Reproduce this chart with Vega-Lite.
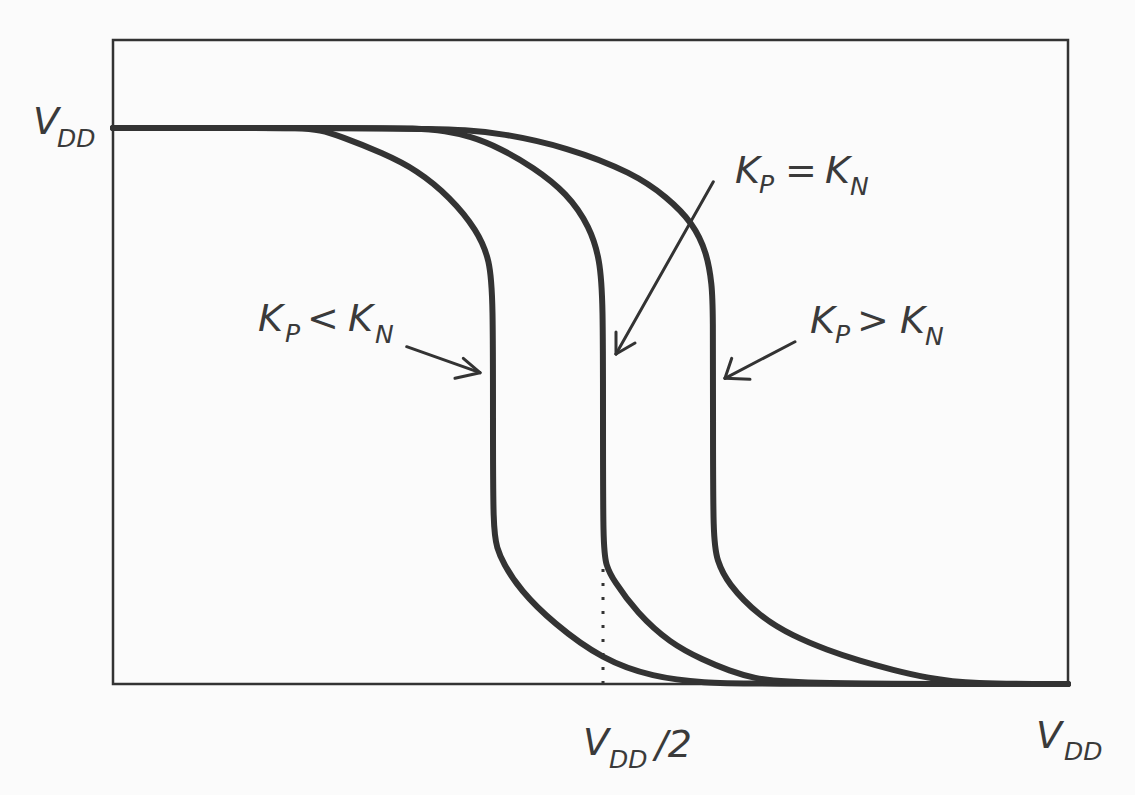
{
  "$schema": "https://vega.github.io/schema/vega-lite/v6.json",
  "width": 955,
  "height": 644,
  "autosize": {"type": "none"},
  "padding": {"left": 113, "top": 40, "right": 67, "bottom": 111},
  "background": "#fbfbfb",
  "config": {"view": {"stroke": "#333333", "strokeWidth": 2.5}},
  "datasets": {
    "curves": [
      {"curve": "Kp<Kn", "i": 0, "x": 0, "y": 1},
      {"curve": "Kp<Kn", "i": 1, "x": 0.1435, "y": 1},
      {"curve": "Kp<Kn", "i": 2, "x": 0.1958, "y": 1},
      {"curve": "Kp<Kn", "i": 3, "x": 0.2168, "y": 0.9964},
      {"curve": "Kp<Kn", "i": 4, "x": 0.2377, "y": 0.9856},
      {"curve": "Kp<Kn", "i": 5, "x": 0.2827, "y": 0.955},
      {"curve": "Kp<Kn", "i": 6, "x": 0.3183, "y": 0.9245},
      {"curve": "Kp<Kn", "i": 7, "x": 0.3529, "y": 0.8759},
      {"curve": "Kp<Kn", "i": 8, "x": 0.3812, "y": 0.8165},
      {"curve": "Kp<Kn", "i": 9, "x": 0.3948, "y": 0.7626},
      {"curve": "Kp<Kn", "i": 10, "x": 0.3979, "y": 0.6906},
      {"curve": "Kp<Kn", "i": 11, "x": 0.3979, "y": 0.4748},
      {"curve": "Kp<Kn", "i": 12, "x": 0.3979, "y": 0.277},
      {"curve": "Kp<Kn", "i": 13, "x": 0.4021, "y": 0.2446},
      {"curve": "Kp<Kn", "i": 14, "x": 0.4084, "y": 0.2176},
      {"curve": "Kp<Kn", "i": 15, "x": 0.4262, "y": 0.1691},
      {"curve": "Kp<Kn", "i": 16, "x": 0.4607, "y": 0.1097},
      {"curve": "Kp<Kn", "i": 17, "x": 0.5131, "y": 0.0432},
      {"curve": "Kp<Kn", "i": 18, "x": 0.5654, "y": 0.0126},
      {"curve": "Kp<Kn", "i": 19, "x": 0.6178, "y": 0.0018},
      {"curve": "Kp<Kn", "i": 20, "x": 0.6775, "y": 0},
      {"curve": "Kp<Kn", "i": 21, "x": 1, "y": 0},
      {"curve": "Kp=Kn", "i": 0, "x": 0, "y": 1},
      {"curve": "Kp=Kn", "i": 1, "x": 0.2482, "y": 1},
      {"curve": "Kp=Kn", "i": 2, "x": 0.3215, "y": 1},
      {"curve": "Kp=Kn", "i": 3, "x": 0.3476, "y": 0.9946},
      {"curve": "Kp=Kn", "i": 4, "x": 0.3738, "y": 0.9856},
      {"curve": "Kp=Kn", "i": 5, "x": 0.4052, "y": 0.964},
      {"curve": "Kp=Kn", "i": 6, "x": 0.4398, "y": 0.9299},
      {"curve": "Kp=Kn", "i": 7, "x": 0.4754, "y": 0.8831},
      {"curve": "Kp=Kn", "i": 8, "x": 0.4995, "y": 0.8219},
      {"curve": "Kp=Kn", "i": 9, "x": 0.5099, "y": 0.7626},
      {"curve": "Kp=Kn", "i": 10, "x": 0.5131, "y": 0.6906},
      {"curve": "Kp=Kn", "i": 11, "x": 0.5131, "y": 0.4748},
      {"curve": "Kp=Kn", "i": 12, "x": 0.5131, "y": 0.2464},
      {"curve": "Kp=Kn", "i": 13, "x": 0.5162, "y": 0.214},
      {"curve": "Kp=Kn", "i": 14, "x": 0.5236, "y": 0.1871},
      {"curve": "Kp=Kn", "i": 15, "x": 0.5487, "y": 0.1277},
      {"curve": "Kp=Kn", "i": 16, "x": 0.5832, "y": 0.0737},
      {"curve": "Kp=Kn", "i": 17, "x": 0.6178, "y": 0.0432},
      {"curve": "Kp=Kn", "i": 18, "x": 0.6461, "y": 0.0234},
      {"curve": "Kp=Kn", "i": 19, "x": 0.6702, "y": 0.0108},
      {"curve": "Kp=Kn", "i": 20, "x": 0.7089, "y": 0},
      {"curve": "Kp=Kn", "i": 21, "x": 1, "y": 0},
      {"curve": "Kp>Kn", "i": 0, "x": 0, "y": 1},
      {"curve": "Kp>Kn", "i": 1, "x": 0.2796, "y": 1},
      {"curve": "Kp>Kn", "i": 2, "x": 0.3319, "y": 0.9982},
      {"curve": "Kp>Kn", "i": 3, "x": 0.3686, "y": 0.9964},
      {"curve": "Kp>Kn", "i": 4, "x": 0.4052, "y": 0.991},
      {"curve": "Kp>Kn", "i": 5, "x": 0.4754, "y": 0.9658},
      {"curve": "Kp>Kn", "i": 6, "x": 0.5445, "y": 0.9191},
      {"curve": "Kp>Kn", "i": 7, "x": 0.5801, "y": 0.8759},
      {"curve": "Kp>Kn", "i": 8, "x": 0.6073, "y": 0.8291},
      {"curve": "Kp>Kn", "i": 9, "x": 0.622, "y": 0.7752},
      {"curve": "Kp>Kn", "i": 10, "x": 0.6272, "y": 0.7176},
      {"curve": "Kp>Kn", "i": 11, "x": 0.6283, "y": 0.6727},
      {"curve": "Kp>Kn", "i": 12, "x": 0.6283, "y": 0.4748},
      {"curve": "Kp>Kn", "i": 13, "x": 0.6283, "y": 0.259},
      {"curve": "Kp>Kn", "i": 14, "x": 0.6325, "y": 0.223},
      {"curve": "Kp>Kn", "i": 15, "x": 0.6429, "y": 0.1817},
      {"curve": "Kp>Kn", "i": 16, "x": 0.6775, "y": 0.1205},
      {"curve": "Kp>Kn", "i": 17, "x": 0.712, "y": 0.0863},
      {"curve": "Kp>Kn", "i": 18, "x": 0.7476, "y": 0.0612},
      {"curve": "Kp>Kn", "i": 19, "x": 0.7822, "y": 0.0414},
      {"curve": "Kp>Kn", "i": 20, "x": 0.8168, "y": 0.0252},
      {"curve": "Kp>Kn", "i": 21, "x": 0.8524, "y": 0.0108},
      {"curve": "Kp>Kn", "i": 22, "x": 0.8974, "y": 0},
      {"curve": "Kp>Kn", "i": 23, "x": 1, "y": 0}
    ],
    "dotted": [{"x": 0.5131, "y": 0, "y2": 0.214}],
    "arrows": [
      {"x": 0.3075, "y": 0.6067, "x2": 0.3843, "y2": 0.5599},
      {"x": 0.3668, "y": 0.5858, "x2": 0.3843, "y2": 0.5599},
      {"x": 0.3581, "y": 0.5498, "x2": 0.3843, "y2": 0.5599},
      {"x": 0.6286, "y": 0.9034, "x2": 0.5267, "y2": 0.5935},
      {"x": 0.5267, "y": 0.6331, "x2": 0.5267, "y2": 0.5935},
      {"x": 0.5466, "y": 0.6133, "x2": 0.5267, "y2": 0.5935},
      {"x": 0.7141, "y": 0.6156, "x2": 0.6408, "y2": 0.5498},
      {"x": 0.6479, "y": 0.5858, "x2": 0.6408, "y2": 0.5498},
      {"x": 0.667, "y": 0.548, "x2": 0.6408, "y2": 0.5498}
    ],
    "labels": [
      {"text": "V", "x": -0.0838, "y": 0.9892},
      {"text": "K", "x": 0.1518, "y": 0.6349},
      {"text": "<", "x": 0.2031, "y": 0.6349},
      {"text": "K", "x": 0.2461, "y": 0.6349},
      {"text": "K", "x": 0.6513, "y": 0.9011},
      {"text": "=", "x": 0.7037, "y": 0.9011},
      {"text": "K", "x": 0.7455, "y": 0.9011},
      {"text": "K", "x": 0.7298, "y": 0.6313},
      {"text": ">", "x": 0.7791, "y": 0.6313},
      {"text": "K", "x": 0.8241, "y": 0.6313},
      {"text": "V", "x": 0.4921, "y": -0.1277},
      {"text": "/2", "x": 0.5675, "y": -0.1313},
      {"text": "V", "x": 0.9665, "y": -0.1151}
    ],
    "subs": [
      {"text": "DD", "x": -0.0586, "y": 0.9658},
      {"text": "P", "x": 0.1801, "y": 0.6151},
      {"text": "N", "x": 0.2743, "y": 0.6133},
      {"text": "P", "x": 0.6764, "y": 0.8831},
      {"text": "N", "x": 0.7717, "y": 0.8795},
      {"text": "P", "x": 0.756, "y": 0.6133},
      {"text": "N", "x": 0.8503, "y": 0.6097},
      {"text": "DD", "x": 0.5194, "y": -0.1511},
      {"text": "DD", "x": 0.9958, "y": -0.1367}
    ]
  },
  "encoding": {
    "x": {"field": "x", "type": "quantitative", "scale": {"domain": [0, 1], "nice": false, "zero": false}, "axis": null},
    "y": {"field": "y", "type": "quantitative", "scale": {"domain": [0, 1.1583], "nice": false, "zero": false}, "axis": null}
  },
  "layer": [
    {
      "data": {"name": "curves"},
      "mark": {"type": "line", "interpolate": "basis", "color": "#333333", "strokeWidth": 6, "strokeCap": "round", "strokeJoin": "round"},
      "encoding": {
        "detail": {"field": "curve", "type": "nominal"},
        "order": {"field": "i", "type": "quantitative"}
      }
    },
    {
      "data": {"name": "dotted"},
      "mark": {"type": "rule", "color": "#333333", "strokeWidth": 3, "strokeDash": [3, 11]},
      "encoding": {"y2": {"field": "y2"}}
    },
    {
      "data": {"name": "arrows"},
      "mark": {"type": "rule", "color": "#333333", "strokeWidth": 3, "strokeCap": "round"},
      "encoding": {"x2": {"field": "x2"}, "y2": {"field": "y2"}}
    },
    {
      "data": {"name": "labels"},
      "mark": {"type": "text", "align": "left", "baseline": "alphabetic", "font": "DejaVu Sans", "fontStyle": "italic", "fontSize": 38, "color": "#3a3a3a"},
      "encoding": {"text": {"field": "text"}}
    },
    {
      "data": {"name": "subs"},
      "mark": {"type": "text", "align": "left", "baseline": "alphabetic", "font": "DejaVu Sans", "fontStyle": "italic", "fontSize": 25, "color": "#3a3a3a"},
      "encoding": {"text": {"field": "text"}}
    }
  ]
}
